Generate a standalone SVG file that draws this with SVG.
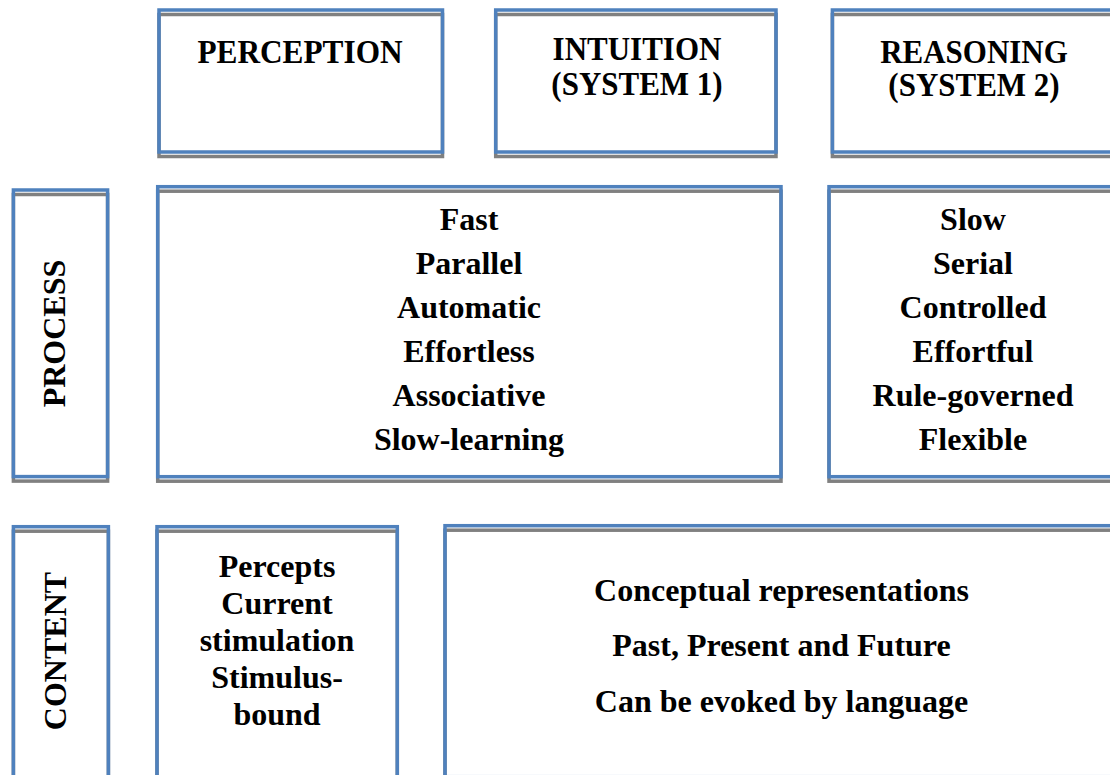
<svg xmlns="http://www.w3.org/2000/svg" width="1110" height="775" viewBox="0 0 1110 775">
<style>
.sh{fill:none;stroke:#808080;stroke-width:3.5}
.bx{fill:none;stroke:#4f81bd;stroke-width:3.5}
.t{font-family:"Liberation Serif","Times New Roman",serif;font-weight:bold;font-size:32px;fill:#000;text-anchor:middle}
.h{font-size:31px}
</style>
<rect width="1110" height="775" fill="#fff"/>
<g id="perception">
<rect class="sh" x="159" y="14.5" width="283.5" height="142"/>
<rect class="bx" x="159" y="10" width="283.5" height="142"/>
<text class="t h" transform="translate(300,62.5) scale(1.01,1.09)">PERCEPTION</text>
</g>
<g id="intuition">
<rect class="sh" x="495.7" y="14.5" width="280.3" height="142"/>
<rect class="bx" x="495.7" y="10" width="280.3" height="142"/>
<text class="t h" transform="translate(637,60) scale(1,1.12)"><tspan x="0" y="0">INTUITION</tspan><tspan x="0" dy="31">(SYSTEM 1)</tspan></text>
</g>
<g id="reasoning">
<rect class="sh" x="832.4" y="14.5" width="290" height="142"/>
<rect class="bx" x="832.4" y="10" width="290" height="142"/>
<text class="t h" transform="translate(974,62.5) scale(1,1.1)"><tspan x="0" y="0">REASONING</tspan><tspan x="0" dy="30.9">(SYSTEM 2)</tspan></text>
</g>
<g id="process-label">
<rect class="sh" x="13.4" y="194.5" width="94.2" height="286.6"/>
<rect class="bx" x="13.4" y="190" width="94.2" height="286.6"/>
<text class="t" transform="translate(65,333.5) rotate(-90)">PROCESS</text>
</g>
<g id="process-system1">
<rect class="sh" x="157.7" y="191.2" width="623.3" height="290"/>
<rect class="bx" x="157.7" y="186.7" width="623.3" height="290"/>
<text class="t" x="469" y="230">Fast</text>
<text class="t" x="469" y="274">Parallel</text>
<text class="t" x="469" y="318">Automatic</text>
<text class="t" x="469" y="362">Effortless</text>
<text class="t" x="469" y="406">Associative</text>
<text class="t" x="469" y="450">Slow-learning</text>
</g>
<g id="process-system2">
<rect class="sh" x="829" y="191.2" width="300" height="290"/>
<rect class="bx" x="829" y="186.7" width="300" height="290"/>
<text class="t" x="973" y="230">Slow</text>
<text class="t" x="973" y="274">Serial</text>
<text class="t" x="973" y="318">Controlled</text>
<text class="t" x="973" y="362">Effortful</text>
<text class="t" x="973" y="406">Rule-governed</text>
<text class="t" x="973" y="450">Flexible</text>
</g>
<g id="content-label">
<rect class="sh" x="13.4" y="531.2" width="95" height="300"/>
<rect class="bx" x="13.4" y="526.7" width="95" height="300"/>
<text class="t" transform="translate(65.5,651) rotate(-90)">CONTENT</text>
</g>
<g id="content-perception">
<rect class="sh" x="157" y="531.2" width="240.3" height="300"/>
<rect class="bx" x="157" y="526.7" width="240.3" height="300"/>
<text class="t" x="277" y="577">Percepts</text>
<text class="t" x="277" y="614">Current</text>
<text class="t" x="277" y="651">stimulation</text>
<text class="t" x="277" y="688">Stimulus-</text>
<text class="t" x="277" y="725">bound</text>
</g>
<g id="content-conceptual">
<rect class="sh" x="445" y="530.2" width="680" height="251"/>
<rect class="bx" x="445" y="525.7" width="680" height="251"/>
<text class="t" x="781.5" y="601">Conceptual representations</text>
<text class="t" x="781.5" y="656">Past, Present and Future</text>
<text class="t" x="781.5" y="712">Can be evoked by language</text>
</g>
<g id="connectors"></g>
</svg>
